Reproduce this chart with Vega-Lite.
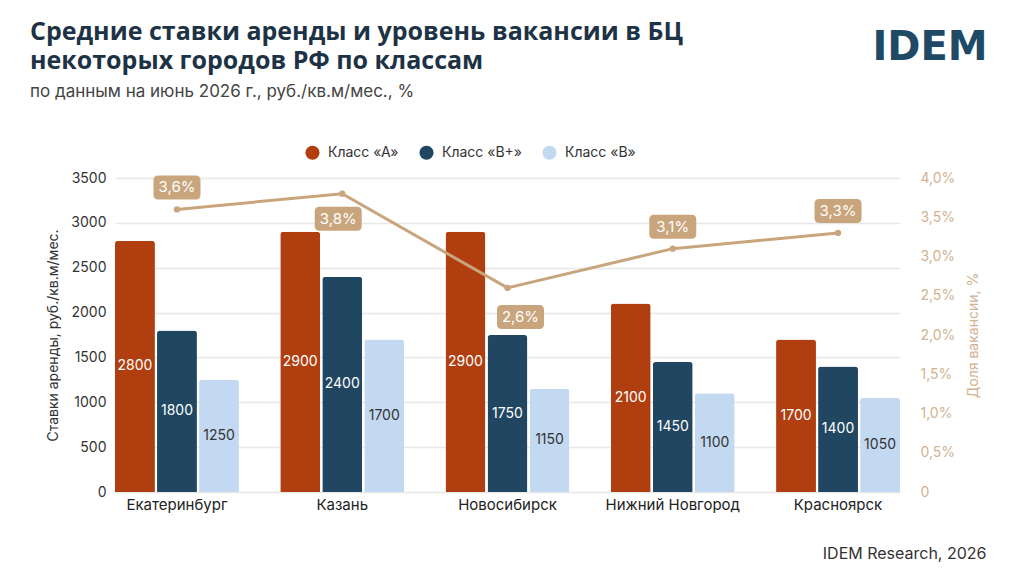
{
  "$schema": "https://vega.github.io/schema/vega-lite/v6.json",
  "width": 785,
  "height": 314,
  "padding": {"left": 30, "top": 19, "right": 20, "bottom": 10},
  "background": "white",
  "config": {
    "font": "Inter",
    "view": {"stroke": null},
    "locale": {"number": {"decimal": ",", "thousands": "\u00a0", "grouping": [3], "currency": ["", " ₽"]}}
  },
  "title": {
    "text": ["Средние ставки аренды и уровень вакансии в БЦ", "некоторых городов РФ по классам"],
    "subtitle": "по данным на июнь 2026 г., руб./кв.м/мес., %",
    "anchor": "start",
    "frame": "group",
    "dx": -85,
    "font": "Open Sans",
    "fontWeight": "bold",
    "fontSize": 25,
    "lineHeight": 29,
    "color": "#1d3345",
    "subtitleFont": "Inter",
    "subtitleFontSize": 17,
    "subtitleColor": "#444444",
    "subtitlePadding": 10,
    "offset": -72
  },
  "datasets": {
    "rent": [
      {"city": "Екатеринбург", "cls": "Класс «А»", "rent": 2800},
      {"city": "Екатеринбург", "cls": "Класс «В+»", "rent": 1800},
      {"city": "Екатеринбург", "cls": "Класс «В»", "rent": 1250},
      {"city": "Казань", "cls": "Класс «А»", "rent": 2900},
      {"city": "Казань", "cls": "Класс «В+»", "rent": 2400},
      {"city": "Казань", "cls": "Класс «В»", "rent": 1700},
      {"city": "Новосибирск", "cls": "Класс «А»", "rent": 2900},
      {"city": "Новосибирск", "cls": "Класс «В+»", "rent": 1750},
      {"city": "Новосибирск", "cls": "Класс «В»", "rent": 1150},
      {"city": "Нижний Новгород", "cls": "Класс «А»", "rent": 2100},
      {"city": "Нижний Новгород", "cls": "Класс «В+»", "rent": 1450},
      {"city": "Нижний Новгород", "cls": "Класс «В»", "rent": 1100},
      {"city": "Красноярск", "cls": "Класс «А»", "rent": 1700},
      {"city": "Красноярск", "cls": "Класс «В+»", "rent": 1400},
      {"city": "Красноярск", "cls": "Класс «В»", "rent": 1050}
    ],
    "vac": [
      {"city": "Екатеринбург", "vac": 0.036},
      {"city": "Казань", "vac": 0.038},
      {"city": "Новосибирск", "vac": 0.026},
      {"city": "Нижний Новгород", "vac": 0.031},
      {"city": "Красноярск", "vac": 0.033}
    ]
  },
  "encoding": {
    "x": {
      "field": "city",
      "type": "nominal",
      "sort": ["Екатеринбург", "Казань", "Новосибирск", "Нижний Новгород", "Красноярск"],
      "scale": {"paddingInner": 0.25, "paddingOuter": 0},
      "axis": {
        "title": "IDEM Research, 2026",
        "titleX": 871,
        "titleY": 61,
        "titleAlign": "right",
        "titleBaseline": "middle",
        "titleFontSize": 16,
        "titleFontWeight": "normal",
        "titleColor": "#333333",
        "labelFontSize": 15,
        "labelColor": "#222222",
        "labelPadding": 5,
        "labelAngle": 0,
        "domain": false,
        "ticks": false
      }
    }
  },
  "layer": [
    {
      "data": {"name": "rent"},
      "mark": {"type": "bar", "cornerRadiusTopLeft": 3, "cornerRadiusTopRight": 3},
      "encoding": {
        "xOffset": {"field": "cls", "type": "nominal", "sort": ["Класс «А»", "Класс «В+»", "Класс «В»"], "scale": {"paddingInner": 0.05}},
        "y": {
          "field": "rent",
          "type": "quantitative",
          "scale": {"domain": [0, 3500], "nice": false},
          "axis": {
            "values": [0, 500, 1000, 1500, 2000, 2500, 3000, 3500],
            "format": "d",
            "title": "Ставки аренды, руб./кв.м/мес.",
            "titleFontSize": 14,
            "titleFontWeight": "normal",
            "titleColor": "#333333",
            "titlePadding": 10,
            "labelFontSize": 14,
            "labelColor": "#333333",
            "labelPadding": 9,
            "domain": false,
            "ticks": false,
            "gridColor": "#e8e8e8",
            "gridWidth": 1.5
          }
        },
        "color": {
          "field": "cls",
          "type": "nominal",
          "scale": {"domain": ["Класс «А»", "Класс «В+»", "Класс «В»"], "range": ["#b13e0f", "#214661", "#c3d9f2"]},
          "legend": {
            "orient": "none",
            "legendX": 190,
            "legendY": -33,
            "direction": "horizontal",
            "title": null,
            "symbolType": "circle",
            "symbolSize": 200,
            "symbolStrokeWidth": 0,
            "labelFontSize": 14,
            "labelColor": "#333333",
            "labelOffset": 8,
            "columnPadding": 20
          }
        }
      }
    },
    {
      "data": {"name": "rent"},
      "mark": {"type": "text", "fontSize": 14, "baseline": "middle"},
      "encoding": {
        "xOffset": {"field": "cls", "type": "nominal", "sort": ["Класс «А»", "Класс «В+»", "Класс «В»"], "scale": {"paddingInner": 0.05}},
        "y": {"field": "rent", "type": "quantitative", "scale": {"domain": [0, 7000], "nice": false}, "axis": null},
        "text": {"field": "rent", "type": "quantitative", "format": "d"},
        "color": {"condition": {"test": "datum.cls === 'Класс «В»'", "value": "#333333"}, "value": "white"}
      }
    },
    {
      "data": {"name": "vac"},
      "mark": {"type": "line", "color": "#c9a57d", "strokeWidth": 3},
      "encoding": {
        "y": {
          "field": "vac",
          "type": "quantitative",
          "scale": {"domain": [0, 0.04], "nice": false},
          "axis": {
            "orient": "right",
            "values": [0, 0.005, 0.01, 0.015, 0.02, 0.025, 0.03, 0.035, 0.04],
            "labelExpr": "datum.value === 0 ? '0' : replace(format(datum.value, '.1%'), '.', ',')",
            "title": "Доля вакансии, %",
            "titleAngle": 270,
            "titleFontSize": 14,
            "titleFontWeight": "normal",
            "titleColor": "#d2b291",
            "labelColor": "#d2b291",
            "labelFontSize": 14,
            "labelPadding": 20,
            "titlePadding": 26,
            "grid": false,
            "domain": false,
            "ticks": false
          }
        }
      }
    },
    {
      "data": {"name": "vac"},
      "mark": {"type": "point", "filled": true, "size": 40, "color": "#c9a57d", "opacity": 1},
      "encoding": {
        "y": {"field": "vac", "type": "quantitative", "scale": {"domain": [0, 0.04], "nice": false}, "axis": null}
      }
    },
    {
      "data": {"name": "vac"},
      "transform": [{"filter": {"field": "city", "oneOf": ["Екатеринбург", "Нижний Новгород", "Красноярск"]}}],
      "mark": {"type": "point", "filled": true, "size": 2209, "color": "#c9a57d", "opacity": 1, "strokeWidth": 0,
        "shape": "M-0.8,-1.447 L0.8,-1.447 Q1,-1.447 1,-1.247 L1,-0.625 Q1,-0.425 0.8,-0.425 L-0.8,-0.425 Q-1,-0.425 -1,-0.625 L-1,-1.247 Q-1,-1.447 -0.8,-1.447 Z"},
      "encoding": {
        "y": {"field": "vac", "type": "quantitative", "scale": {"domain": [0, 0.04], "nice": false}, "axis": null}
      }
    },
    {
      "data": {"name": "vac"},
      "transform": [{"filter": {"field": "city", "equal": "Казань"}}],
      "mark": {"type": "point", "filled": true, "size": 2209, "color": "#c9a57d", "opacity": 1, "strokeWidth": 0,
        "shape": "M-0.97,0.553 L0.63,0.553 Q0.83,0.553 0.83,0.753 L0.83,1.375 Q0.83,1.575 0.63,1.575 L-0.97,1.575 Q-1.17,1.575 -1.17,1.375 L-1.17,0.753 Q-1.17,0.553 -0.97,0.553 Z"},
      "encoding": {
        "y": {"field": "vac", "type": "quantitative", "scale": {"domain": [0, 0.04], "nice": false}, "axis": null}
      }
    },
    {
      "data": {"name": "vac"},
      "transform": [{"filter": {"field": "city", "equal": "Новосибирск"}}],
      "mark": {"type": "point", "filled": true, "size": 2209, "color": "#c9a57d", "opacity": 1, "strokeWidth": 0,
        "shape": "M-0.247,0.723 L1.353,0.723 Q1.553,0.723 1.553,0.923 L1.553,1.545 Q1.553,1.745 1.353,1.745 L-0.247,1.745 Q-0.447,1.745 -0.447,1.545 L-0.447,0.923 Q-0.447,0.723 -0.247,0.723 Z"},
      "encoding": {
        "y": {"field": "vac", "type": "quantitative", "scale": {"domain": [0, 0.04], "nice": false}, "axis": null}
      }
    },
    {
      "data": {"name": "vac"},
      "transform": [{"filter": {"field": "city", "oneOf": ["Екатеринбург", "Нижний Новгород", "Красноярск"]}}],
      "mark": {"type": "text", "color": "white", "fontSize": 15, "baseline": "middle", "dy": -22},
      "encoding": {
        "y": {"field": "vac", "type": "quantitative", "scale": {"domain": [0, 0.04], "nice": false}, "axis": null},
        "text": {"field": "vac", "type": "quantitative", "format": ".1%"}
      }
    },
    {
      "data": {"name": "vac"},
      "transform": [{"filter": {"field": "city", "equal": "Казань"}}],
      "mark": {"type": "text", "color": "white", "fontSize": 15, "baseline": "middle", "dx": -4, "dy": 25},
      "encoding": {
        "y": {"field": "vac", "type": "quantitative", "scale": {"domain": [0, 0.04], "nice": false}, "axis": null},
        "text": {"field": "vac", "type": "quantitative", "format": ".1%"}
      }
    },
    {
      "data": {"name": "vac"},
      "transform": [{"filter": {"field": "city", "equal": "Новосибирск"}}],
      "mark": {"type": "text", "color": "white", "fontSize": 15, "baseline": "middle", "dx": 13, "dy": 29},
      "encoding": {
        "y": {"field": "vac", "type": "quantitative", "scale": {"domain": [0, 0.04], "nice": false}, "axis": null},
        "text": {"field": "vac", "type": "quantitative", "format": ".1%"}
      }
    },
    {
      "data": {"values": [{"logo": "IDEM"}]},
      "mark": {"type": "text", "font": "DejaVu Sans", "fontWeight": "bold", "fontSize": 40, "letterSpacing": 4, "color": "#1f4a66", "baseline": "middle", "dx": 92},
      "encoding": {
        "x": {"datum": "Красноярск"},
        "y": {"datum": 4950, "type": "quantitative", "scale": {"domain": [0, 3500], "nice": false}, "axis": null},
        "text": {"field": "logo", "type": "nominal"}
      }
    }
  ],
  "resolve": {"scale": {"y": "independent"}}
}
